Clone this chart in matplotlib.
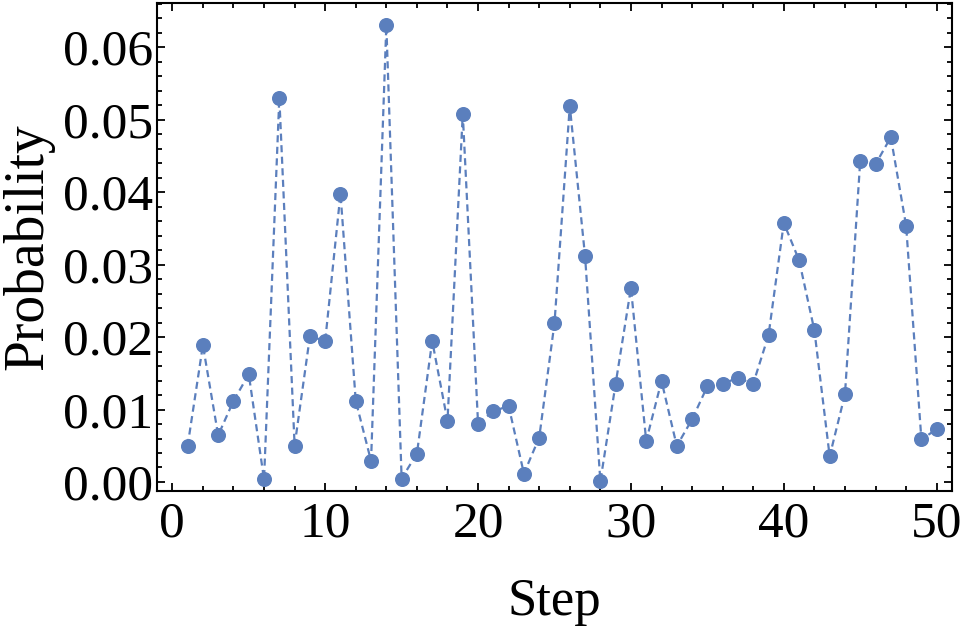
import matplotlib
matplotlib.use("Agg")
import matplotlib.pyplot as plt
from matplotlib.ticker import MultipleLocator, FormatStrFormatter

# probability per step
steps = list(range(1, 51))
prob = [0.00497, 0.01887, 0.00645, 0.01118, 0.01487, 0.00037, 0.05305, 0.00502, 0.02011, 0.01946,
        0.03980, 0.01118, 0.00290, 0.06304, 0.00047, 0.00392, 0.01946, 0.00842, 0.05080, 0.00806,
        0.00976, 0.01049, 0.00116, 0.00613, 0.02195, 0.05190, 0.03115, 0.00010, 0.01358, 0.02678,
        0.00566, 0.01394, 0.00497, 0.00865, 0.01321, 0.01358, 0.01435, 0.01358, 0.02025, 0.03575,
        0.03060, 0.02094, 0.00355, 0.01210, 0.04436, 0.04385, 0.04758, 0.03539, 0.00589, 0.00727]

plt.rcParams['font.family'] = ['Liberation Serif', 'DejaVu Serif']

fig = plt.figure(figsize=(9.61, 6.28), dpi=100)
ax = fig.add_axes([0.1634, 0.2182, 0.8272, 0.7770])

col = '#5B7FBD'
ax.plot(steps, prob, linestyle=(0, (3.2, 2.0)), color=col, lw=1.6,
        marker='o', ms=9.8, mfc=col, mec=col)

ax.set_xlim(-1, 51)
ax.set_ylim(-0.00124, 0.0661)
ax.xaxis.set_major_locator(MultipleLocator(10))
ax.xaxis.set_minor_locator(MultipleLocator(2))
ax.yaxis.set_major_locator(MultipleLocator(0.01))
ax.yaxis.set_minor_locator(MultipleLocator(0.002))
ax.yaxis.set_major_formatter(FormatStrFormatter('%.2f'))

ax.tick_params(which='both', direction='in', top=True, right=True, width=1.3, labelsize=37)
ax.tick_params(which='major', length=6)
ax.tick_params(which='minor', length=3.5)
ax.tick_params(axis='y', pad=3)
ax.tick_params(axis='x', pad=7)
for s in ax.spines.values():
    s.set_linewidth(1.5)

ax.set_xlabel('Step', fontsize=38, labelpad=22)
ax.set_ylabel('Probability', fontsize=40, labelpad=6)

fig.savefig('out.png', dpi=100)
